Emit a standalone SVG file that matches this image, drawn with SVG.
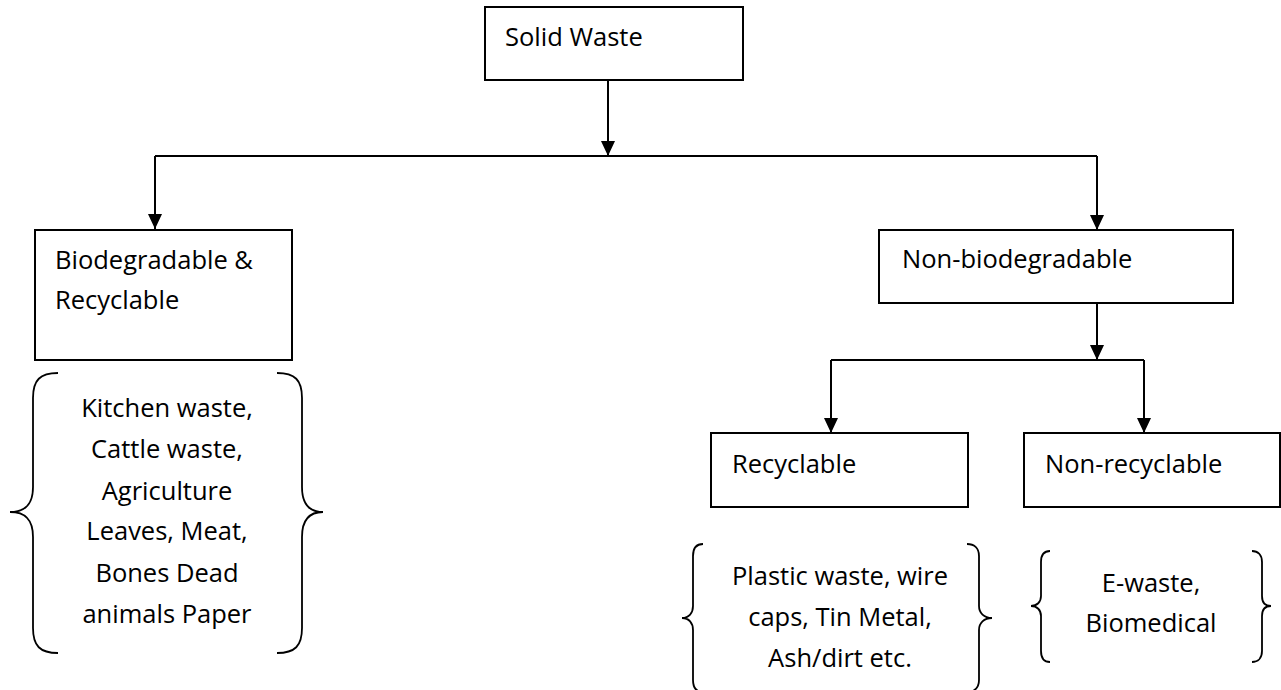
<svg xmlns="http://www.w3.org/2000/svg" width="1281" height="690" viewBox="0 0 1281 690">
<style>
.box{fill:#fff;stroke:#000;stroke-width:2}
.t{font-family:"Open Sans","Liberation Sans",sans-serif;font-size:25.5px;fill:#000}
.c{text-anchor:middle}
.ln{fill:none;stroke:#000;stroke-width:2}
.br{fill:none;stroke:#000;stroke-width:1.8}
</style>
<defs>
<marker id="ah" markerUnits="userSpaceOnUse" markerWidth="16" markerHeight="16" refX="15" refY="7" orient="auto">
<path d="M0,0 L15,7 L0,14 Z" fill="#000"/>
</marker>
</defs>
<rect width="1281" height="690" fill="#fff"/>
<g id="connectors">
<line class="ln" x1="608" y1="80" x2="608" y2="156" marker-end="url(#ah)"/>
<line class="ln" x1="155" y1="156" x2="1097" y2="156"/>
<line class="ln" x1="155" y1="156" x2="155" y2="229" marker-end="url(#ah)"/>
<line class="ln" x1="1097" y1="156" x2="1097" y2="230" marker-end="url(#ah)"/>
<line class="ln" x1="1097" y1="303" x2="1097" y2="360" marker-end="url(#ah)"/>
<line class="ln" x1="831" y1="360" x2="1144" y2="360"/>
<line class="ln" x1="831" y1="360" x2="831" y2="433" marker-end="url(#ah)"/>
<line class="ln" x1="1144" y1="360" x2="1144" y2="433" marker-end="url(#ah)"/>
</g>
<g id="solid-waste">
<rect class="box" x="485" y="7" width="258" height="73"/>
<text class="t" x="505" y="46">Solid Waste</text>
</g>
<g id="biodegradable">
<rect class="box" x="35" y="230" width="257" height="130"/>
<text class="t" x="55" y="269">Biodegradable &amp;</text>
<text class="t" x="55" y="309">Recyclable</text>
</g>
<g id="bio-items">
<path class="br" d="M58,373 C40,373 33,380 33,398 L33,487 C33,505 25,512 10,512 C25,512 33,519 33,537 L33,628 C33,646 40,653 58,653"/>
<path class="br" d="M277,373 C295,373 302,380 302,398 L302,487 C302,505 310,512 323,512 C310,512 302,519 302,537 L302,628 C302,646 295,653 277,653"/>
<text class="t c" x="167" y="417">Kitchen waste,</text>
<text class="t c" x="167" y="458">Cattle waste,</text>
<text class="t c" x="167" y="499.5">Agriculture</text>
<text class="t c" x="167" y="540">Leaves, Meat,</text>
<text class="t c" x="167" y="582">Bones Dead</text>
<text class="t c" x="167" y="623">animals Paper</text>
</g>
<g id="non-biodegradable">
<rect class="box" x="879" y="230" width="354" height="73"/>
<text class="t" x="902" y="268">Non-biodegradable</text>
</g>
<g id="recyclable">
<rect class="box" x="711" y="433" width="257" height="74"/>
<text class="t" x="732" y="472.7">Recyclable</text>
</g>
<g id="non-recyclable">
<rect class="box" x="1024" y="433" width="256" height="74"/>
<text class="t" x="1045" y="472.7">Non-recyclable</text>
</g>
<g id="recyclable-items">
<path class="br" d="M703,544 C696,544 693,548 693,556 L693,606 C693,613 689,618 682,618 C689,618 693,623 693,630 L693,680 C693,688 696,692 703,692"/>
<path class="br" d="M967,544 C974,544 979,548 979,556 L979,606 C979,613 984,618 992,618 C984,618 979,623 979,630 L979,680 C979,688 974,692 967,692"/>
<text class="t c" x="840" y="585">Plastic waste, wire</text>
<text class="t c" x="840" y="626">caps, Tin Metal,</text>
<text class="t c" x="840" y="666.7">Ash/dirt etc.</text>
</g>
<g id="non-recyclable-items">
<path class="br" d="M1050,551 C1044,551 1041,555 1041,562 L1041,596 C1041,602 1037,606 1031,606 C1037,606 1041,610 1041,616 L1041,651 C1041,658 1044,662 1050,662"/>
<path class="br" d="M1252,551 C1258,551 1262,555 1262,562 L1262,596 C1262,602 1265,606 1271,606 C1265,606 1262,610 1262,616 L1262,651 C1262,658 1258,662 1252,662"/>
<text class="t c" x="1151" y="591.7">E-waste,</text>
<text class="t c" x="1151" y="631.7">Biomedical</text>
</g>
</svg>
